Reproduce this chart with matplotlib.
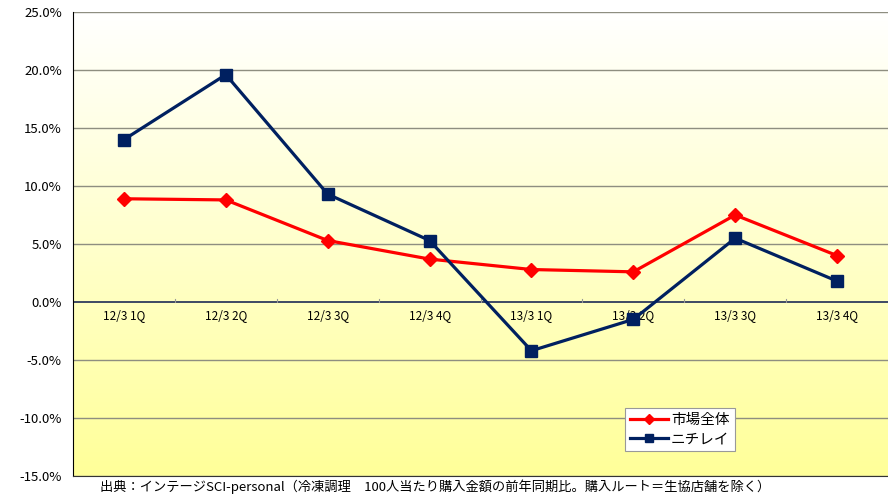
import numpy as np
import matplotlib.pyplot as plt
from matplotlib.colors import LinearSegmentedColormap
from matplotlib.lines import Line2D

plt.rcParams['font.family'] = ['Noto Sans CJK JP', 'DejaVu Sans']

# --- data ---
quarters = ['12/3 1Q', '12/3 2Q', '12/3 3Q', '12/3 4Q',
            '13/3 1Q', '13/3 2Q', '13/3 3Q', '13/3 4Q']
market = [8.9, 8.8, 5.3, 3.7, 2.8, 2.6, 7.5, 4.0]
nichirei = [14.0, 19.6, 9.3, 5.3, -4.2, -1.5, 5.5, 1.8]
yticks = [-15, -10, -5, 0, 5, 10, 15, 20, 25]
source = '出典：インテージSCI-personal（冷凍調理　100人当たり購入金額の前年同期比。購入ルート＝生協店舗を除く）'

fig = plt.figure(figsize=(8.88, 4.97), dpi=100)
ax = fig.add_axes([73 / 888, 21 / 497, 815 / 888, 464 / 497])

x = np.arange(len(quarters))
ax.set_xlim(-0.5, len(quarters) - 0.5)
ax.set_ylim(-15, 25)

# background gradient white -> yellow
cmap = LinearSegmentedColormap.from_list('bg', ['#ffff99', '#ffffff'])
grad = np.linspace(0, 1, 256).reshape(-1, 1)
ax.imshow(grad, cmap=cmap, aspect='auto', origin='lower',
          extent=[-0.5, len(quarters) - 0.5, -15, 25], zorder=0)

for v in yticks:
    if v != 0:
        ax.axhline(v, color='#8e8e80', lw=1, zorder=1)
ax.axhline(0, color='#1c2a55', lw=1.2, zorder=2)
for b in np.arange(0.5, len(quarters) - 0.5):
    ax.plot([b, b], [0, 0.3], color='#999999', lw=0.8, zorder=2)

ax.plot(x, market, color='#ff0000', lw=2.3, marker='D', markersize=7.5, zorder=4)
ax.plot(x, nichirei, color='#002060', lw=2.3, marker='s', markersize=9, zorder=5)

for xi, q in zip(x, quarters):
    ax.text(xi, -1.15, q, ha='center', va='center', fontsize=8.5, zorder=3)

ax.set_yticks(yticks)
ax.set_yticklabels([f'{v:.1f}%' for v in yticks], fontsize=9.5)
ax.set_xticks([])
ax.tick_params(axis='y', length=0, pad=8)
for s in ['top', 'right']:
    ax.spines[s].set_visible(False)
ax.spines['left'].set_color('black')
ax.spines['bottom'].set_color('#333333')

handles = [Line2D([], [], color='#ff0000', lw=2.3, marker='D', markersize=5),
           Line2D([], [], color='#002060', lw=2.3, marker='s', markersize=6)]
leg = fig.legend(handles, ['市場全体', 'ニチレイ'], loc='upper left',
                 bbox_to_anchor=(625 / 888, 1 - 408 / 497), fontsize=10.5,
                 fancybox=False, framealpha=1, edgecolor='#999999',
                 handlelength=2.6, handletextpad=0.2, borderpad=0.35,
                 labelspacing=0.35, borderaxespad=0)
leg.get_frame().set_linewidth(0.8)

fig.text(100 / 888, 1 - 487 / 497, source, fontsize=9.5, va='center', ha='left')

fig.savefig('out.png', dpi=100)
